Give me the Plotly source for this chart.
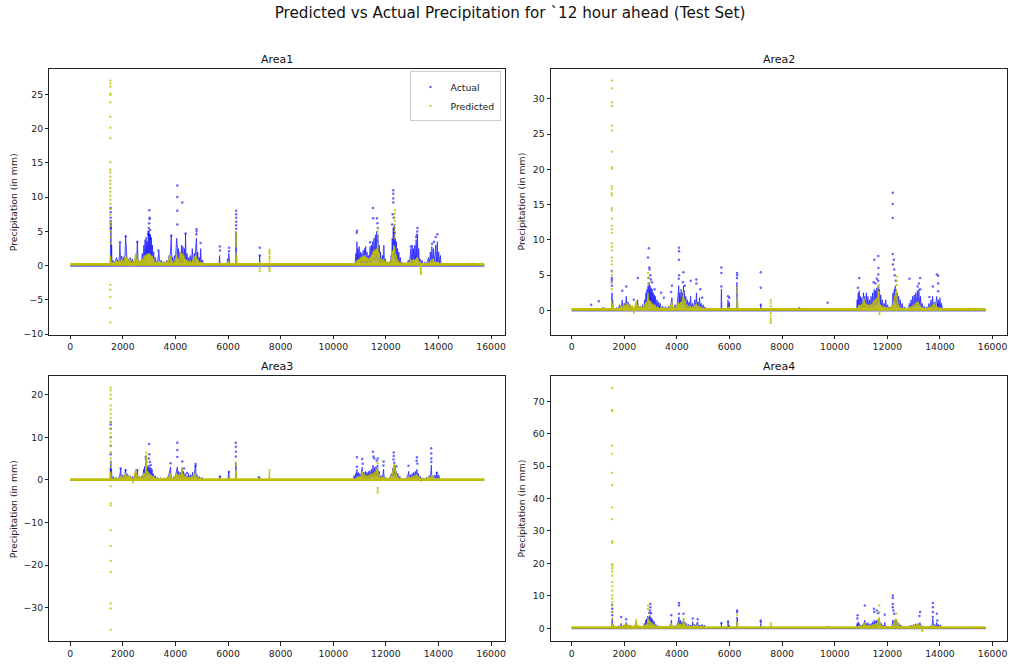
import plotly.graph_objects as go

# ---------------- DATA ----------------
TITLE = "Predicted vs Actual Precipitation for `12 hour ahead (Test Set)"
AREAS = ["Area1", "Area2", "Area3", "Area4"]
X_TICKS = [0, 2000, 4000, 6000, 8000, 10000, 12000, 14000, 16000]
X_TICK_TEXT = ["0", "2000", "4000", "6000", "8000", "10000", "12000", "14000", "16000"]
Y_TICKS = {
    "Area1": [-10, -5, 0, 5, 10, 15, 20, 25],
    "Area2": [0, 5, 10, 15, 20, 25, 30],
    "Area3": [-30, -20, -10, 0, 10, 20],
    "Area4": [0, 10, 20, 30, 40, 50, 60, 70],
}
SERIES_END = 15740          # last sample index of the test set
PRED_BASE = {"Area1": 0.2, "Area2": 0.15, "Area3": 0.05, "Area4": 0.25}

# ---- Area1 ----
A1_ACT = [(0,0),(1500,0),(1520,0.5),(1530,4.0),(1540,1.0),(1550,6.0),(1560,0.5),(1575,3.0),(1590,0.3),(1620,0.8),(1660,0.2),(1700,0.6),(1760,1.2),(1820,0.4),(1860,1.0),(1890,3.3),(1920,0.4),(1960,1.4),(2000,0.5),(2040,1.3),(2070,0.4),(2107,4.3),(2140,1.5),(2170,0.4),(2200,1.0),(2240,0.3),(2280,1.2),(2320,0.3),(2360,1.0),(2400,0.2),(2450,0.9),(2500,0.3),(2530,1.5),(2550,3.5),(2580,0.8),(2620,0.2),(2660,0.6),(2700,0.2),(2740,1.8),(2770,0.5),(2800,3.0),(2820,0.6),(2845,3.8),(2865,1.0),(2885,4.2),(2905,0.8),(2925,3.5),(2945,1.2),(2965,5.0),(2985,1.5),(3005,4.8),(3025,1.8),(3045,4.5),(3065,1.0),(3085,4.0),(3105,1.5),(3125,3.0),(3150,0.8),(3175,2.0),(3200,0.3),(3240,1.2),(3280,0.2),(3330,0.9),(3370,2.1),(3410,0.3),(3460,0.8),(3510,0.2),(3570,0.6),(3630,0.2),(3680,0.8),(3720,0.3),(3760,1.5),(3790,0.5),(3815,1.8),(3840,4.4),(3865,0.8),(3890,1.2),(3920,0.1),(3960,1.5),(3990,0.3),(4020,2.5),(4045,4.0),(4070,3.0),(4095,0.8),(4120,2.5),(4150,0.5),(4180,2.0),(4210,0.4),(4235,3.0),(4260,1.0),(4285,2.8),(4310,0.5),(4340,2.5),(4365,0.8),(4385,4.7),(4410,0.5),(4440,1.8),(4470,0.3),(4500,1.2),(4530,0.2),(4560,1.5),(4600,0.3),(4640,2.5),(4680,0.4),(4720,1.8),(4750,0.5),(4775,3.0),(4800,4.0),(4825,1.0),(4850,2.0),(4880,0.4),(4910,1.2),(4940,0.3),(4960,2.5),(4990,0.5),(5030,0.8),(5070,0.2),(5100,0),(5660,0),(5680,1.5),(5700,0),(5960,0),(5980,1.0),(6000,0.3),(6030,1.8),(6060,0.4),(6080,0),(6280,0),(6295,5.0),(6305,0.5),(6315,4.0),(6330,1.0),(6345,0),(7195,0),(7205,1.5),(7215,0),(10440,0),(10460,0.3),(10480,0),(10820,0),(10840,0.8),(10860,1.8),(10880,0.3),(10900,3.5),(10920,0.5),(10940,2.5),(10960,0.4),(10985,2.8),(11010,0.5),(11035,2.0),(11060,0.3),(11085,1.8),(11110,0.2),(11135,2.2),(11160,0.4),(11185,2.5),(11210,0.5),(11235,2.8),(11260,0.4),(11285,2.0),(11310,0.3),(11340,1.5),(11370,0.5),(11400,2.8),(11425,0.4),(11450,3.0),(11475,0.8),(11500,3.5),(11525,1.0),(11550,4.0),(11575,0.8),(11600,4.5),(11625,1.0),(11650,5.0),(11675,1.5),(11700,4.5),(11725,0.8),(11750,3.0),(11775,0.4),(11800,2.0),(11825,0.2),(11850,0.8),(11875,1.5),(11900,0.3),(11925,3.0),(11950,0.3),(11980,1.0),(12020,0.1),(12060,0.5),(12100,0.1),(12140,0.6),(12170,0.2),(12200,1.5),(12220,0.5),(12240,4.0),(12260,1.5),(12280,5.5),(12300,2.0),(12320,6.0),(12340,1.0),(12360,4.0),(12380,0.8),(12400,3.5),(12420,0.5),(12445,2.5),(12470,0.4),(12495,2.0),(12520,0.3),(12550,1.2),(12580,0.2),(12620,0.5),(12680,0.1),(12740,0.3),(12800,0.1),(12850,0.8),(12890,0.2),(12920,1.5),(12950,2.5),(12975,0.4),(13000,3.0),(13025,0.5),(13050,2.5),(13075,0.6),(13100,3.0),(13125,0.8),(13150,3.8),(13175,1.0),(13200,4.5),(13225,0.8),(13250,2.5),(13275,0.4),(13300,1.0),(13340,0.2),(13380,0.8),(13420,0.1),(13480,0.5),(13530,0.1),(13580,0.6),(13620,1.2),(13650,0.2),(13690,2.0),(13720,0.3),(13750,2.8),(13780,0.5),(13810,2.5),(13840,0.4),(13870,2.0),(13900,3.0),(13930,0.5),(13955,3.5),(13980,0.6),(14010,2.0),(14040,0.3),(14070,1.5),(14100,0.2),(14130,0),(15740,0)]
A1_ACT_DOTS = [(1538,8.4),(1540,7.8),(1536,7.0),(1542,6.5),(1540,6.1),(1538,5.5),(1890,3.4),(2107,4.3),(2550,3.5),(2990,5.5),(3000,6.2),(3010,8.1),(3015,7.0),(3020,6.8),(2980,5.0),(2960,4.6),(3040,5.2),(3030,4.4),(3060,4.0),(3350,2.2),(3840,4.4),(4070,11.7),(4072,10.0),(4070,8.0),(4068,6.0),(4260,9.2),(4385,4.7),(4800,5.3),(4805,5.0),(4798,4.6),(4955,3.3),(5690,2.8),(5692,2.2),(6040,2.6),(6035,2.1),(6310,8.0),(6308,7.5),(6310,7.0),(6312,6.4),(6306,5.9),(6310,5.4),(7206,2.6),(7206,1.5),(10900,5.1),(10895,4.8),(11400,3.4),(11510,8.4),(11520,6.9),(11660,6.9),(11680,6.2),(11700,5.5),(12280,11.0),(12282,10.5),(12280,9.8),(12284,9.2),(12260,7.5),(12300,7.0),(12240,6.0),(12310,5.5),(12330,4.8),(13200,5.5),(13195,5.0),(13180,4.5),(13150,4.2),(13960,4.6),(13900,4.2),(13830,3.5),(13760,3.2),(12950,2.8)]
A1_PRED = [(0,0.2),(1520,0.2),(1530,1.5),(1540,0.3),(1550,1.0),(1565,0.2),(1620,0.5),(1700,0.3),(1750,0.8),(1800,0.3),(1850,0.6),(1900,0.3),(1950,1.0),(2000,0.4),(2050,0.8),(2100,1.5),(2130,0.5),(2160,1.2),(2200,0.4),(2250,1.0),(2300,0.5),(2340,-0.2),(2370,0.6),(2420,0.3),(2460,1.0),(2490,1.8),(2520,0.5),(2560,0.9),(2600,0.3),(2650,0.8),(2700,0.4),(2750,1.0),(2780,0.5),(2810,1.5),(2840,0.6),(2870,1.6),(2900,0.8),(2930,1.8),(2960,0.9),(2990,1.8),(3020,0.9),(3050,1.6),(3080,0.8),(3110,1.4),(3140,0.6),(3170,1.0),(3200,0.3),(3260,0.5),(3330,0.3),(3400,0.6),(3480,0.3),(3550,0.5),(3620,0.3),(3700,0.6),(3760,1.0),(3800,1.5),(3840,0.8),(3880,0.4),(3940,0.3),(3980,0.8),(4020,1.2),(4050,1.5),(4080,0.6),(4110,1.0),(4140,0.5),(4170,1.2),(4200,2.0),(4230,1.0),(4260,1.8),(4290,0.8),(4320,1.5),(4350,0.6),(4390,1.0),(4430,0.5),(4470,0.8),(4510,0.3),(4560,0.6),(4610,0.4),(4660,0.8),(4700,1.0),(4740,1.3),(4780,1.5),(4810,0.6),(4850,0.8),(4900,0.4),(4950,0.5),(5000,0.3),(5060,0.2),(5980,0.2),(6000,0.7),(6030,0.3),(6050,0.5),(6070,0.2),(6290,0.2),(6300,2.0),(6310,0.5),(6320,1.5),(6335,0.2),(10850,0.2),(10880,0.4),(10910,0.8),(10940,0.4),(10970,1.0),(11000,0.5),(11040,1.2),(11070,0.6),(11100,1.4),(11130,0.6),(11160,1.5),(11190,0.7),(11220,1.5),(11250,0.6),(11280,1.2),(11310,0.6),(11340,1.0),(11370,0.6),(11400,1.3),(11430,0.8),(11460,1.6),(11490,1.0),(11520,2.2),(11550,1.0),(11580,2.4),(11610,1.2),(11640,2.5),(11670,1.5),(11690,3.5),(11710,1.2),(11740,2.0),(11770,0.8),(11800,1.0),(11840,0.5),(11880,0.8),(11920,1.0),(11960,0.4),(12000,0.5),(12060,0.3),(12120,0.4),(12180,0.6),(12220,1.2),(12250,2.2),(12280,1.6),(12300,3.0),(12320,2.0),(12340,2.8),(12360,1.5),(12390,1.5),(12420,0.8),(12460,0.8),(12500,0.4),(12560,0.4),(12640,0.3),(12740,0.3),(12840,0.4),(12900,0.5),(12960,0.8),(13000,0.6),(13050,0.9),(13100,0.7),(13150,1.0),(13200,1.2),(13240,0.6),(13290,0.5),(13320,0.2),(13330,-1.2),(13340,0.3),(13400,0.3),(13480,0.2),(13560,0.3),(13640,0.4),(13700,0.6),(13750,0.8),(13790,1.0),(13830,0.5),(13880,0.6),(13940,0.4),(14000,0.4),(14100,0.2),(15740,0.2)]
A1_PRED_DOTS = [(1525,27.0),(1525,26.6),(1525,26.1),(1525,25.1),(1525,24.9),(1525,23.8),(1525,21.7),(1525,20.1),(1525,18.6),(1525,15.1),(1525,14.0),(1525,13.6),(1525,13.0),(1525,12.4),(1525,11.9),(1525,11.3),(1525,10.8),(1525,10.2),(1525,9.6),(1525,9.0),(1525,8.2),(1525,7.4),(1525,6.3),(1525,5.8),(1525,5.0),(1525,4.2),(1525,3.3),(1525,-2.8),(1525,-3.5),(1525,-4.6),(1525,-6.2),(1525,-8.3),(6310,4.7),(6310,4.3),(6310,4.0),(6310,3.6),(6310,3.2),(6310,2.8),(7206,0.4),(7206,-0.4),(7206,-0.8),(7575,2.3),(7575,2.0),(7575,1.7),(7575,1.3),(7575,1.0),(7575,0.6),(7575,-0.3),(7575,-0.5),(7575,-0.8),(11690,5.5),(11690,5.0),(11690,4.5),(11690,4.0),(12340,8.1),(12340,7.6),(12340,7.0),(12340,6.5),(12340,6.0),(12340,5.5),(12340,5.0),(12340,4.5),(12340,4.0),(13330,-1.2),(13330,-0.9),(13330,-0.5),(15100,0.3),(15300,0.3)]

# ---- Area2 ----
A2_ACT = [(0,0),(1510,0),(1520,2.0),(1528,0.5),(1535,2.5),(1545,0.4),(1560,1.5),(1580,0),(1650,0),(1700,0.4),(1760,0.2),(1820,0.8),(1870,0.2),(1920,1.5),(1960,0.3),(2000,1.0),(2040,0.4),(2072,2.0),(2100,0.5),(2140,1.2),(2180,0.3),(2220,0.8),(2260,0.2),(2300,0.6),(2350,0.1),(2400,0.5),(2450,0.2),(2500,1.5),(2540,0.3),(2600,0.6),(2650,0.2),(2700,0.8),(2740,0.3),(2770,1.5),(2795,0.5),(2820,2.5),(2840,0.6),(2860,3.0),(2880,0.8),(2900,3.5),(2920,1.0),(2940,4.0),(2960,1.2),(2980,3.5),(3000,1.0),(3020,3.2),(3040,0.8),(3060,3.0),(3080,0.7),(3100,2.5),(3120,0.6),(3140,2.2),(3160,0.5),(3180,2.0),(3210,0.4),(3240,1.5),(3270,0.3),(3300,1.2),(3330,0.3),(3360,1.0),(3400,0.2),(3450,0.6),(3500,0.2),(3560,0.5),(3620,0.1),(3680,0.6),(3740,0.3),(3780,1.0),(3810,1.8),(3840,0.5),(3880,0.3),(3930,0.8),(3970,0.2),(4010,1.0),(4040,2.0),(4070,3.5),(4090,1.0),(4110,2.5),(4130,0.8),(4160,3.0),(4180,1.0),(4210,2.5),(4230,0.8),(4250,3.5),(4270,1.0),(4290,2.8),(4310,0.6),(4340,2.0),(4370,0.4),(4400,1.5),(4430,0.3),(4460,1.2),(4490,0.3),(4520,2.0),(4550,0.4),(4590,1.0),(4630,0.3),(4680,1.5),(4710,0.4),(4740,2.5),(4770,0.5),(4800,1.2),(4830,0.3),(4860,1.8),(4890,0.4),(4920,1.0),(4960,0.3),(5000,0.8),(5040,0.2),(5080,0.5),(5120,0),(5670,0),(5690,3.0),(5710,0),(5920,0),(5940,1.5),(5960,0.3),(5990,1.2),(6020,0),(6270,0),(6280,4.0),(6290,0.5),(6300,3.5),(6315,0),(7180,0),(7190,0.8),(7200,0),(10780,0),(10800,0.3),(10830,0),(10850,1.5),(10870,0.3),(10890,2.5),(10910,0.5),(10930,2.8),(10950,0.4),(10980,2.0),(11000,0.3),(11030,1.8),(11060,0.4),(11090,2.5),(11110,0.5),(11140,2.0),(11170,0.4),(11200,2.5),(11230,0.5),(11260,2.0),(11290,0.3),(11320,1.5),(11350,0.4),(11380,2.0),(11410,0.5),(11440,2.5),(11470,0.6),(11500,3.0),(11525,0.8),(11550,2.8),(11575,0.8),(11600,3.2),(11625,1.0),(11650,3.5),(11675,1.2),(11700,3.0),(11725,0.8),(11750,2.2),(11780,0.5),(11810,1.5),(11840,0.3),(11880,1.0),(11910,0.3),(11940,1.5),(11970,0.2),(12010,0.8),(12050,0.2),(12100,0.5),(12150,0.2),(12190,1.0),(12215,2.5),(12240,0.8),(12260,3.0),(12280,1.0),(12300,3.5),(12320,1.2),(12340,3.0),(12360,0.8),(12380,2.5),(12400,0.5),(12430,2.0),(12460,0.4),(12490,1.5),(12520,0.3),(12560,1.0),(12600,0.2),(12650,0.5),(12720,0.1),(12800,0.4),(12840,1.0),(12870,0.3),(12900,1.5),(12930,0.4),(12960,2.0),(12990,0.5),(13020,2.2),(13050,0.6),(13080,2.5),(13110,0.7),(13140,2.8),(13170,0.8),(13200,3.0),(13230,0.6),(13260,2.0),(13290,0.4),(13320,1.0),(13360,0.2),(13400,0.6),(13450,0.1),(13500,0.5),(13540,0.2),(13580,1.0),(13620,0.3),(13660,1.5),(13690,0.3),(13720,2.0),(13750,0.4),(13780,1.2),(13810,0.3),(13850,1.5),(13880,2.0),(13910,0.4),(13940,1.5),(13970,0.3),(14000,1.8),(14030,0.4),(14060,1.0),(14100,0.2),(14120,0),(15740,0)]
A2_ACT_DOTS = [(740,0.8),(1030,1.3),(1200,0.3),(1524,5.6),(1526,4.6),(1524,4.3),(1522,4.0),(1526,3.5),(1920,2.8),(2072,3.4),(2514,4.6),(2360,1.5),(2933,8.8),(2900,7.5),(2945,6.1),(2960,5.8),(2990,5.0),(2920,4.6),(3010,4.4),(3050,4.0),(3150,3.0),(3400,2.5),(3500,1.8),(3810,3.5),(3780,2.6),(4076,8.9),(4078,8.4),(4076,7.2),(4080,5.0),(4070,4.5),(4250,5.4),(4230,4.0),(4300,3.5),(4522,4.2),(4738,4.4),(4740,3.8),(4890,3.0),(4960,1.8),(5690,6.1),(5692,5.3),(5690,3.4),(5943,2.0),(5990,1.8),(6286,5.3),(6288,5.0),(6284,4.6),(7188,5.4),(7188,3.2),(7190,0.8),(8648,0.3),(9730,1.1),(10930,4.6),(10880,3.2),(11505,7.2),(11657,7.7),(11660,6.0),(11655,5.1),(11650,4.2),(11600,4.5),(11550,3.8),(11480,4.0),(12206,16.7),(12206,15.1),(12206,13.1),(12206,8.0),(12210,6.5),(12250,7.2),(12260,5.8),(12280,5.0),(12320,4.2),(12838,4.5),(13246,4.6),(13200,3.8),(13150,3.4),(13250,3.0),(13600,1.9),(13730,3.4),(13880,5.1),(13930,4.9),(13930,3.8),(13930,2.7),(13940,0.8)]
A2_PRED = [(0,0.15),(1515,0.15),(1525,1.5),(1535,0.3),(1545,1.0),(1560,0.15),(1700,0.2),(1800,0.3),(1880,0.6),(1950,0.3),(2000,0.8),(2050,0.4),(2100,1.0),(2150,0.5),(2200,0.9),(2250,0.4),(2300,0.7),(2340,-0.2),(2362,-0.5),(2380,0.3),(2420,0.8),(2460,1.4),(2480,0.4),(2520,0.7),(2580,0.3),(2640,0.5),(2700,0.3),(2760,0.8),(2790,0.4),(2820,1.2),(2850,0.6),(2880,1.8),(2900,2.5),(2920,1.0),(2950,1.5),(2980,0.8),(3010,1.3),(3040,0.6),(3080,1.0),(3120,0.4),(3160,0.8),(3200,0.3),(3260,0.5),(3330,0.2),(3420,0.4),(3500,0.2),(3600,0.3),(3700,0.3),(3780,0.8),(3810,1.2),(3840,0.4),(3900,0.3),(3960,0.5),(4020,0.8),(4060,1.0),(4100,0.6),(4140,1.2),(4180,0.8),(4220,2.0),(4250,2.5),(4270,1.0),(4300,1.5),(4330,0.6),(4380,0.8),(4430,0.4),(4480,0.6),(4540,0.3),(4600,0.5),(4680,0.6),(4740,0.9),(4790,0.5),(4850,0.6),(4920,0.3),(5000,0.3),(5080,0.15),(5940,0.15),(5960,0.5),(5990,0.3),(6020,0.15),(6280,0.15),(6290,2.0),(6300,0.5),(6310,1.5),(6320,0.15),(10850,0.15),(10880,0.4),(10920,0.8),(10960,0.4),(11000,0.8),(11040,0.4),(11080,1.2),(11110,1.8),(11140,0.6),(11180,1.0),(11220,0.5),(11260,0.8),(11300,0.4),(11340,0.8),(11380,0.6),(11420,1.0),(11460,0.8),(11500,1.5),(11540,1.0),(11580,1.8),(11610,1.2),(11640,2.5),(11670,2.8),(11690,1.5),(11710,-0.4),(11730,0.8),(11770,0.6),(11820,0.4),(11880,0.5),(11940,0.3),(12000,0.4),(12080,0.3),(12160,0.4),(12220,0.8),(12260,1.5),(12290,2.0),(12320,2.5),(12340,3.0),(12360,2.5),(12380,1.2),(12420,0.8),(12470,0.4),(12540,0.3),(12640,0.2),(12760,0.3),(12860,0.4),(12940,0.5),(13000,0.7),(13060,0.9),(13110,1.0),(13150,1.2),(13190,1.0),(13230,0.6),(13280,0.5),(13340,0.3),(13420,0.2),(13520,0.3),(13620,0.4),(13700,0.5),(13740,0.8),(13780,1.0),(13820,0.5),(13880,0.4),(13960,0.3),(14060,0.2),(15740,0.15)]
A2_PRED_DOTS = [(1524,32.6),(1524,31.5),(1524,29.5),(1524,29.0),(1524,26.2),(1524,25.5),(1524,22.5),(1524,20.3),(1524,20.1),(1524,17.6),(1524,17.2),(1524,16.6),(1524,16.3),(1524,14.5),(1524,14.2),(1524,13.0),(1524,12.0),(1524,11.5),(1524,11.0),(1524,9.5),(1524,9.0),(1524,8.5),(1524,7.5),(1524,7.0),(1524,6.5),(1524,5.5),(1524,5.0),(1524,4.0),(1524,3.0),(2900,5.3),(2900,4.6),(2900,3.8),(4250,2.5),(6290,3.2),(6290,2.8),(6290,2.4),(7569,1.4),(7569,1.0),(7569,0.6),(7569,-0.4),(7569,-0.8),(7569,-1.2),(7569,-1.5),(7569,-1.8),(11680,3.6),(11680,3.2),(11680,2.5),(11700,-0.5),(12360,4.8),(12360,4.2),(12360,3.6),(15100,0.25),(15300,0.25)]

# ---- Area3 ----
A3_ACT = [(0,0),(1510,0),(1525,3.0),(1535,0.5),(1545,4.5),(1555,0.8),(1570,2.5),(1590,0.2),(1640,0.8),(1700,0.2),(1760,0.6),(1820,0.2),(1880,1.0),(1917,2.7),(1950,0.4),(2000,1.2),(2040,0.3),(2080,1.6),(2107,2.3),(2140,0.5),(2180,1.4),(2220,0.3),(2270,1.0),(2320,0.2),(2370,0.8),(2420,0.3),(2470,1.5),(2510,0.4),(2550,2.3),(2580,0.5),(2630,0.8),(2680,0.2),(2730,1.0),(2760,0.4),(2790,2.5),(2810,0.6),(2830,3.2),(2850,0.8),(2870,4.0),(2890,1.0),(2910,3.5),(2930,1.2),(2950,3.0),(2970,1.0),(2990,3.5),(3010,1.2),(3030,3.0),(3050,0.8),(3070,2.8),(3090,0.6),(3110,2.5),(3130,0.5),(3160,1.5),(3190,0.3),(3230,1.0),(3270,0.2),(3320,0.6),(3380,0.2),(3440,0.5),(3500,0.1),(3580,0.4),(3650,0.2),(3720,0.8),(3760,1.5),(3790,2.5),(3815,3.0),(3840,0.5),(3880,0.2),(3940,0.8),(3980,0.3),(4020,1.5),(4050,2.5),(4070,3.0),(4090,0.8),(4120,2.0),(4150,0.5),(4180,1.8),(4210,0.6),(4240,2.5),(4260,2.8),(4280,0.6),(4310,2.0),(4340,0.4),(4370,1.5),(4400,0.3),(4430,1.0),(4460,0.2),(4500,1.5),(4530,0.3),(4570,1.2),(4610,0.2),(4650,1.8),(4690,0.4),(4730,2.5),(4765,3.5),(4790,0.8),(4820,1.2),(4860,0.2),(4900,0.8),(4950,0.2),(5000,0.6),(5050,0.1),(5100,0),(5680,0),(5690,0.8),(5700,0),(5990,0),(6010,1.2),(6030,1.9),(6050,0.3),(6070,0),(6280,0),(6290,4.0),(6300,0.5),(6310,3.0),(6325,0),(7190,0),(7200,0.6),(7210,0),(10480,0),(10500,0.3),(10520,0),(10760,0),(10790,1.0),(10820,0.3),(10850,1.5),(10870,0.3),(10900,2.5),(10920,0.5),(10950,1.8),(10980,0.3),(11010,1.5),(11040,0.4),(11070,2.0),(11100,3.0),(11130,0.6),(11160,1.8),(11190,0.4),(11220,2.0),(11250,0.5),(11280,1.8),(11310,0.4),(11340,2.0),(11370,0.5),(11400,2.2),(11430,0.6),(11460,2.5),(11490,0.8),(11510,3.5),(11540,0.8),(11570,3.0),(11600,1.0),(11630,3.2),(11660,1.0),(11690,3.5),(11720,0.8),(11750,2.0),(11780,0.4),(11820,1.0),(11860,0.2),(11890,1.5),(11915,2.5),(11940,0.3),(11980,0.6),(12030,0.1),(12080,0.4),(12130,0.1),(12180,0.8),(12210,1.5),(12240,0.6),(12270,2.8),(12290,1.0),(12310,3.2),(12330,1.2),(12350,3.0),(12370,0.8),(12400,2.0),(12430,0.5),(12460,1.5),(12490,0.3),(12530,0.8),(12580,0.1),(12640,0.3),(12720,0.1),(12800,0.5),(12840,1.2),(12870,2.0),(12900,0.3),(12940,1.2),(12970,0.3),(13000,1.5),(13030,0.4),(13060,1.8),(13090,0.5),(13120,2.0),(13150,0.6),(13180,2.5),(13210,0.5),(13240,1.5),(13270,0.3),(13310,0.8),(13360,0.1),(13420,0.4),(13480,0.1),(13540,0.6),(13600,0.2),(13650,1.0),(13690,0.3),(13710,2.5),(13730,3.5),(13750,0.5),(13790,1.0),(13830,0.3),(13870,1.2),(13910,0.3),(13940,1.7),(13970,0.3),(14010,1.2),(14050,0.2),(14090,0),(15740,0)]
A3_ACT_DOTS = [(1538,13.6),(1540,13.0),(1536,12.0),(1540,10.0),(1538,8.0),(1540,6.0),(1917,2.7),(2107,2.3),(2550,2.3),(2870,5.4),(2880,4.8),(2900,4.2),(3000,8.4),(3010,6.0),(2990,5.0),(3030,4.2),(3060,3.5),(3815,3.9),(4070,8.7),(4072,7.0),(4070,5.4),(4260,4.3),(4330,2.7),(4440,1.6),(4765,3.7),(4760,3.2),(5690,0.8),(6030,1.9),(6296,8.7),(6296,7.8),(6298,6.6),(6295,5.5),(7170,0.6),(10900,5.3),(10900,3.1),(11100,4.9),(11120,3.8),(11510,6.6),(11530,5.5),(11560,5.0),(11690,5.0),(11650,4.5),(11915,4.3),(11910,3.4),(12300,6.4),(12300,5.6),(12290,4.8),(12320,4.0),(12400,3.2),(12860,3.3),(13180,5.3),(13170,4.5),(13200,3.8),(13725,7.4),(13725,6.2),(13727,5.0),(13725,4.2),(13940,1.7)]
A3_PRED = [(0,0.05),(1515,0.05),(1525,1.5),(1535,0.3),(1545,2.0),(1560,0.05),(1650,0.2),(1750,0.4),(1850,0.3),(1950,0.8),(2000,0.4),(2060,1.0),(2100,1.5),(2140,0.6),(2180,1.0),(2220,0.4),(2270,0.8),(2320,0.3),(2360,-0.3),(2390,-0.8),(2410,0.4),(2450,1.2),(2490,2.5),(2520,0.8),(2560,1.0),(2600,0.4),(2650,0.6),(2700,0.3),(2760,0.8),(2800,1.5),(2830,0.8),(2860,2.0),(2880,3.5),(2890,6.0),(2900,2.5),(2920,1.5),(2950,2.0),(2980,1.2),(3010,1.6),(3040,0.8),(3080,1.2),(3120,0.6),(3160,0.8),(3200,0.3),(3280,0.4),(3360,0.2),(3440,0.3),(3540,0.2),(3640,0.3),(3720,0.5),(3780,1.0),(3810,1.5),(3840,0.4),(3900,0.3),(3960,0.6),(4020,0.9),(4060,1.5),(4100,0.8),(4140,1.2),(4180,0.6),(4220,1.5),(4250,3.1),(4270,1.0),(4310,1.2),(4350,0.5),(4400,0.8),(4450,0.3),(4500,0.6),(4560,0.4),(4620,0.6),(4680,0.8),(4740,1.5),(4780,0.8),(4830,0.5),(4900,0.3),(4980,0.2),(5060,0.05),(5990,0.05),(6010,0.5),(6040,0.3),(6060,0.05),(6280,0.05),(6290,2.5),(6300,0.5),(6310,1.8),(6320,0.05),(7560,0.05),(7565,1.5),(7575,2.0),(7585,0.5),(7595,0.05),(10850,0.05),(10880,0.3),(10920,0.8),(10960,0.4),(11000,0.8),(11040,0.5),(11080,1.2),(11110,2.0),(11140,0.8),(11180,1.2),(11220,0.6),(11260,1.0),(11300,0.5),(11340,1.0),(11380,0.8),(11420,1.2),(11460,0.9),(11500,1.5),(11540,1.2),(11580,1.8),(11620,1.5),(11650,2.2),(11680,3.0),(11700,1.2),(11730,1.5),(11770,0.6),(11820,0.5),(11880,0.6),(11940,0.3),(12000,0.4),(12080,0.2),(12160,0.5),(12220,1.0),(12260,2.0),(12290,2.8),(12320,3.5),(12340,2.5),(12370,2.0),(12400,1.0),(12440,0.6),(12500,0.3),(12600,0.2),(12720,0.2),(12840,0.4),(12920,0.5),(13000,0.7),(13060,0.8),(13120,1.0),(13170,1.2),(13210,0.8),(13260,0.5),(13310,0.2),(13330,-0.5),(13350,0.2),(13440,0.2),(13540,0.3),(13640,0.4),(13700,0.6),(13740,1.0),(13780,0.6),(13840,0.4),(13920,0.3),(14020,0.2),(14100,0.05),(15740,0.05)]
A3_PRED_DOTS = [(1538,21.6),(1538,21.0),(1538,20.0),(1538,19.0),(1538,17.5),(1538,16.5),(1538,15.5),(1538,14.5),(1538,13.5),(1538,12.0),(1538,11.0),(1538,10.0),(1538,9.0),(1538,8.0),(1538,6.5),(1538,5.0),(1538,4.0),(1538,3.0),(1538,-1.5),(1538,-5.5),(1538,-6.0),(1538,-11.8),(1538,-15.5),(1538,-19.0),(1538,-21.6),(1538,-29.0),(1538,-30.2),(1538,-35.2),(2890,6.4),(6296,4.1),(6296,3.5),(7575,2.3),(11690,3.9),(11690,-1.9),(11690,-2.5),(11690,-3.0),(12320,3.5),(15200,0.2),(15400,0.2)]

# ---- Area4 ----
A4_ACT = [(0,0),(1515,0),(1525,2.0),(1535,0.5),(1545,3.0),(1560,0.3),(1580,1.0),(1600,0),(1660,0.3),(1720,0.1),(1780,0.8),(1840,0.3),(1880,1.5),(1920,0.3),(1970,1.0),(2020,0.4),(2070,1.8),(2110,0.4),(2160,1.0),(2210,0.3),(2260,0.8),(2310,0.2),(2360,0.6),(2410,0.3),(2460,1.0),(2510,0.3),(2560,0.6),(2620,0.2),(2680,0.6),(2730,0.3),(2770,1.5),(2790,0.5),(2810,2.5),(2830,0.8),(2850,3.0),(2870,1.0),(2890,3.8),(2910,1.2),(2930,3.5),(2950,1.0),(2970,4.0),(2990,1.2),(3010,3.5),(3030,1.0),(3050,3.0),(3070,0.8),(3090,2.5),(3110,0.6),(3140,2.0),(3170,0.5),(3200,1.2),(3240,0.3),(3290,0.8),(3350,0.2),(3420,0.5),(3500,0.2),(3580,0.5),(3660,0.2),(3730,0.8),(3770,1.5),(3790,2.5),(3810,0.5),(3860,0.3),(3920,0.8),(3970,0.3),(4020,1.2),(4050,2.0),(4076,3.5),(4100,1.0),(4130,2.5),(4160,0.8),(4190,2.0),(4220,0.6),(4250,3.0),(4270,0.8),(4300,2.0),(4330,0.4),(4360,1.5),(4400,0.3),(4440,1.2),(4480,0.3),(4520,1.0),(4560,0.4),(4600,2.0),(4630,0.4),(4670,1.2),(4710,0.3),(4750,1.5),(4790,2.0),(4820,0.4),(4860,1.0),(4900,0.3),(4950,1.2),(5000,0.3),(5040,1.0),(5080,0.2),(5110,0),(5680,0),(5690,1.6),(5700,0),(5930,0),(5943,2.1),(5960,0.3),(5990,1.0),(6010,0),(6270,0),(6280,3.5),(6290,0.5),(6300,3.0),(6315,0),(7180,0),(7188,1.5),(7196,0),(10800,0),(10830,0.5),(10850,1.5),(10870,0.3),(10890,2.0),(10910,0.4),(10930,1.5),(10960,0.3),(10990,1.0),(11020,0.2),(11060,1.2),(11090,0.3),(11120,1.8),(11143,2.5),(11170,0.4),(11200,1.5),(11230,0.4),(11260,1.8),(11290,0.3),(11320,1.2),(11350,0.4),(11380,1.5),(11410,0.4),(11440,2.0),(11470,0.5),(11500,2.5),(11525,0.6),(11550,2.2),(11575,0.6),(11600,2.5),(11625,0.8),(11650,2.8),(11680,1.0),(11710,2.2),(11740,0.5),(11770,1.5),(11800,0.3),(11840,1.0),(11870,0.3),(11900,1.8),(11930,0.3),(11970,0.6),(12020,0.1),(12080,0.4),(12140,0.1),(12180,0.8),(12206,2.5),(12230,0.8),(12260,2.5),(12290,0.8),(12320,2.8),(12350,0.8),(12380,2.2),(12410,0.5),(12440,1.5),(12470,0.3),(12510,1.0),(12550,0.2),(12600,0.5),(12680,0.1),(12780,0.3),(12840,0.8),(12880,0.2),(12920,1.0),(12960,0.3),(13000,1.2),(13040,0.3),(13080,1.4),(13120,0.4),(13160,1.5),(13200,0.5),(13240,1.8),(13280,0.3),(13320,0.8),(13370,0.1),(13430,0.4),(13490,0.1),(13550,0.6),(13600,0.2),(13650,0.8),(13690,0.3),(13710,2.0),(13730,3.0),(13760,0.4),(13800,1.2),(13840,0.3),(13880,1.8),(13910,0.4),(13940,1.2),(13980,0.3),(14020,1.0),(14060,0.2),(14110,0),(15740,0)]
A4_ACT_DOTS = [(1539,7.2),(1540,6.0),(1538,5.0),(1540,4.0),(1880,3.5),(2070,2.8),(2985,7.5),(2990,6.5),(2980,5.5),(2950,4.8),(3020,4.6),(3786,4.0),(4076,7.8),(4078,7.0),(4076,4.5),(4250,4.5),(4600,3.0),(4790,2.8),(5690,1.6),(5943,2.1),(6286,5.5),(6288,5.0),(7188,2.4),(7190,1.9),(9730,0.3),(10870,4.0),(10860,3.0),(11143,7.0),(11490,6.0),(11500,5.0),(11600,5.5),(11650,4.6),(11900,4.2),(12206,10.1),(12206,9.3),(12208,7.5),(12206,6.5),(12230,5.5),(12260,4.5),(13246,5.0),(13220,3.8),(13730,7.8),(13730,6.5),(13732,5.0),(13728,3.5),(13880,4.5),(13900,2.4)]
A4_PRED = [(0,0.25),(1520,0.25),(1530,1.5),(1540,0.4),(1550,1.2),(1565,0.25),(1650,0.3),(1750,0.5),(1850,0.4),(1900,0.8),(1950,0.4),(2000,0.9),(2050,0.5),(2100,1.5),(2140,0.6),(2180,1.0),(2220,0.4),(2260,0.8),(2300,0.3),(2330,-0.3),(2370,0.4),(2410,1.0),(2453,2.8),(2480,0.8),(2520,0.9),(2570,0.4),(2630,0.6),(2690,0.3),(2750,0.8),(2790,0.4),(2820,1.2),(2850,0.8),(2880,2.0),(2900,3.5),(2920,1.5),(2950,2.5),(2980,1.5),(3010,2.0),(3040,1.0),(3080,1.5),(3120,0.7),(3160,1.0),(3200,0.4),(3280,0.5),(3360,0.3),(3460,0.4),(3560,0.3),(3660,0.4),(3740,0.6),(3790,1.5),(3830,0.5),(3900,0.4),(3970,0.7),(4030,1.0),(4070,1.5),(4110,0.8),(4150,1.2),(4190,0.6),(4230,1.5),(4255,3.0),(4280,1.0),(4320,1.2),(4360,0.5),(4420,0.8),(4480,0.4),(4540,0.6),(4600,0.5),(4660,0.8),(4720,0.6),(4780,0.8),(4840,0.4),(4920,0.3),(5000,0.25),(6270,0.25),(6280,2.0),(6290,0.5),(6300,1.5),(6310,0.25),(7560,0.25),(7565,1.5),(7575,1.9),(7585,0.4),(7595,0.25),(10850,0.25),(10880,0.4),(10920,0.8),(10960,0.5),(11000,0.7),(11040,0.4),(11080,1.0),(11110,1.8),(11130,0.6),(11170,1.0),(11210,0.5),(11250,0.9),(11290,0.5),(11330,0.8),(11370,0.6),(11410,1.0),(11450,0.8),(11490,1.2),(11530,1.0),(11570,1.5),(11610,1.2),(11650,2.0),(11680,2.8),(11695,3.5),(11710,1.5),(11740,1.2),(11780,0.6),(11830,0.5),(11890,0.6),(11950,0.4),(12020,0.4),(12100,0.3),(12170,0.5),(12220,1.0),(12260,1.8),(12300,2.5),(12330,3.0),(12360,2.2),(12390,1.2),(12430,0.8),(12480,0.5),(12560,0.3),(12680,0.3),(12800,0.4),(12900,0.5),(12980,0.7),(13050,0.9),(13110,1.0),(13160,1.2),(13200,1.0),(13250,0.6),(13300,0.4),(13330,-0.8),(13345,0.3),(13420,0.3),(13520,0.4),(13620,0.4),(13700,0.6),(13750,0.9),(13800,0.6),(13860,0.4),(13940,0.3),(14040,0.25),(15740,0.25)]
A4_PRED_DOTS = [(1539,74.1),(1539,67.3),(1539,67.0),(1539,56.3),(1539,53.8),(1539,47.9),(1539,44.1),(1539,37.3),(1539,33.6),(1539,26.9),(1539,26.4),(1539,19.8),(1539,19.3),(1539,18.5),(1539,17.5),(1539,16.2),(1539,14.2),(1539,13.0),(1539,11.6),(1539,10.1),(1539,9.1),(1539,8.0),(1539,7.0),(1539,5.0),(1539,3.0),(2900,7.0),(2900,6.0),(4255,3.0),(6286,4.2),(11695,7.0),(11695,5.0),(12340,4.5),(13330,-0.8),(15200,0.3),(15400,0.3)]

DATA = {
    "Area1": (A1_ACT, A1_ACT_DOTS, A1_PRED, A1_PRED_DOTS),
    "Area2": (A2_ACT, A2_ACT_DOTS, A2_PRED, A2_PRED_DOTS),
    "Area3": (A3_ACT, A3_ACT_DOTS, A3_PRED, A3_PRED_DOTS),
    "Area4": (A4_ACT, A4_ACT_DOTS, A4_PRED, A4_PRED_DOTS),
}

# ---------------- LAYOUT / STYLE ----------------
W, H = 1009, 668
X_RANGE = [-790, 16530]
Y_RANGE = {"Area1": [-10.08, 28.72], "Area2": [-3.46, 34.28],
           "Area3": [-37.86, 24.35], "Area4": [-3.98, 77.75]}
XDOM = [[49.5 / W, 505.5 / W], [551.5 / W, 1007.5 / W]]
YDOM = [[1 - 337.3 / H, 1 - 69.3 / H], [1 - 646 / H, 1 - 379 / H]]
FONT = "DejaVu Sans"
BLUE_LINE = "rgba(0,0,255,0.6)"
BLUE_FILL = "rgba(0,0,255,0.35)"
BLUE_DOT = "rgba(0,0,255,0.6)"
YEL_LINE = "rgba(191,191,0,0.95)"
YEL_FILL = "rgba(191,191,0,0.75)"
YEL_DOT = "rgba(191,191,0,0.85)"
AX_COLOR = "#222222"

def unzip(pairs):
    return [p[0] for p in pairs], [p[1] for p in pairs]

fig = go.Figure()
layout = dict(
    width=W, height=H, margin=dict(l=0, r=0, t=0, b=0),
    paper_bgcolor="white", plot_bgcolor="white",
    font=dict(family=FONT, size=9.3, color=AX_COLOR),
    title=dict(text=TITLE, x=510 / W, xanchor="center", y=1 - 12.5 / H, yanchor="middle",
               font=dict(family=FONT, size=15.2, color="#111111")),
    showlegend=True,
    legend=dict(x=501 / W, xanchor="right", y=1 - 72 / H, yanchor="top",
                bgcolor="rgba(255,255,255,0.8)", bordercolor="#cccccc", borderwidth=1,
                font=dict(family=FONT, size=9.3, color=AX_COLOR),
                tracegroupgap=0, itemwidth=30),
)
annotations = []

for i, area in enumerate(AREAS):
    row, col = divmod(i, 2)
    suffix = "" if i == 0 else str(i + 1)
    xref, yref = "x" + suffix, "y" + suffix
    act, act_dots, pred, pred_dots = DATA[area]

    # actual baseline + series
    fig.add_trace(go.Scatter(x=[0, SERIES_END], y=[0, 0], mode="lines",
                             line=dict(color=BLUE_LINE, width=2), showlegend=False,
                             hoverinfo="skip", xaxis=xref, yaxis=yref))
    ax, ay = unzip(act)
    fig.add_trace(go.Scatter(x=ax, y=ay, mode="lines", line=dict(color=BLUE_LINE, width=1),
                             fill="tozeroy", fillcolor=BLUE_FILL,
                             showlegend=False, xaxis=xref, yaxis=yref))
    dx, dy = unzip(act_dots)
    fig.add_trace(go.Scatter(x=dx, y=dy, mode="markers", name="Actual",
                             marker=dict(color=BLUE_DOT, size=2.5, line=dict(width=0)),
                             showlegend=(i == 0), xaxis=xref, yaxis=yref))
    # predicted baseline + series
    b = PRED_BASE[area]
    fig.add_trace(go.Scatter(x=[0, SERIES_END], y=[b, b], mode="lines",
                             line=dict(color=YEL_LINE, width=2.6), showlegend=False,
                             hoverinfo="skip", xaxis=xref, yaxis=yref))
    px_, py_ = unzip(pred)
    fig.add_trace(go.Scatter(x=px_, y=py_, mode="lines", line=dict(color=YEL_LINE, width=1.1),
                             fill="tozeroy", fillcolor=YEL_FILL,
                             showlegend=False, xaxis=xref, yaxis=yref))
    qx, qy = unzip(pred_dots)
    fig.add_trace(go.Scatter(x=qx, y=qy, mode="markers", name="Predicted",
                             marker=dict(color=YEL_DOT, size=2.3, line=dict(width=0)),
                             showlegend=(i == 0), xaxis=xref, yaxis=yref))

    common = dict(showgrid=False, zeroline=False, showline=True, linecolor=AX_COLOR,
                  linewidth=0.9, mirror=True, ticks="outside", ticklen=3.5, tickwidth=0.9,
                  tickcolor=AX_COLOR, tickfont=dict(family=FONT, size=9.3, color=AX_COLOR))
    layout["xaxis" + suffix] = dict(common, domain=XDOM[col], range=X_RANGE,
                                    tickmode="array", tickvals=X_TICKS, ticktext=X_TICK_TEXT,
                                    anchor=yref)
    layout["yaxis" + suffix] = dict(common, domain=YDOM[row], range=Y_RANGE[area],
                                    tickmode="array", tickvals=Y_TICKS[area], anchor=xref)

    xc = (XDOM[col][0] + XDOM[col][1]) / 2
    annotations.append(dict(text=area, x=xc, y=YDOM[row][1], xref="paper", yref="paper",
                            xanchor="center", yanchor="bottom", yshift=1, showarrow=False,
                            font=dict(family=FONT, size=11, color="#111111")))
    ylab_x = (13.5 if col == 0 else 522.3) / W
    annotations.append(dict(text="Precipitation (in mm)", x=ylab_x,
                            y=(YDOM[row][0] + YDOM[row][1]) / 2, xref="paper", yref="paper",
                            xanchor="center", yanchor="middle", textangle=-90, showarrow=False,
                            font=dict(family=FONT, size=9.3, color=AX_COLOR)))

layout["annotations"] = annotations
fig.update_layout(**layout)
fig.write_html("out.html")
